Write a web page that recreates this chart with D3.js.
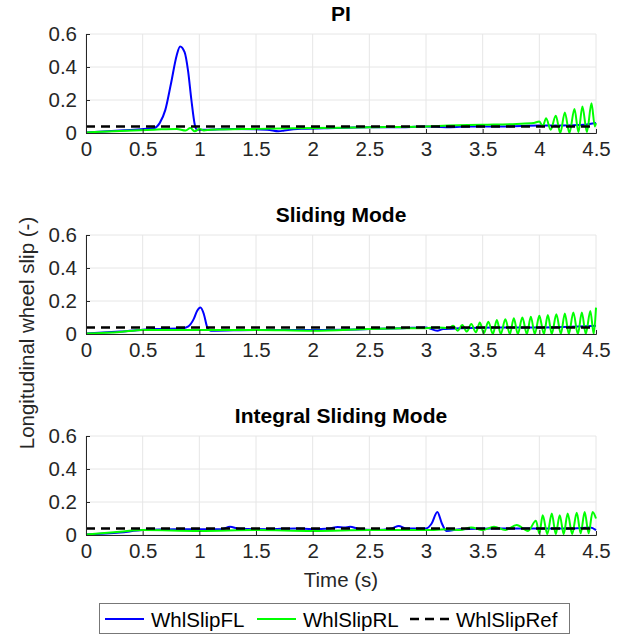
<!DOCTYPE html>
<html>
<head>
<meta charset="utf-8">
<script src="https://cdn.jsdelivr.net/npm/d3@7"></script>
<style>
body { margin: 0; background: #fff; }
text { font-family: "Liberation Sans", Arial, sans-serif; }
</style>
</head>
<body>
<div id="chart"></div>
<script>
// panel titles and ticks
var titles = ['PI', 'Sliding Mode', 'Integral Sliding Mode']
var xTicks = [0, 0.5, 1, 1.5, 2, 2.5, 3, 3.5, 4, 4.5]
var yTicks = [0, 0.2, 0.4, 0.6]
var slipRef = 0.04
var seriesNames = ['WhlSlipFL', 'WhlSlipRL', 'WhlSlipRef']

// PI
var piTimeFL = [0,0.3,0.6,0.65,0.7,0.75,0.8,0.83,0.87,0.9,0.93,0.96,0.98,1.05,1.3,1.6,1.7,1.75,1.9,2.2,2.5,2.8,3.0,3.2,3.4,3.7,4.0,4.2,4.4,4.5]
var piFL = [0.003,0.015,0.03,0.06,0.14,0.3,0.47,0.525,0.49,0.38,0.2,0.05,0.02,0.02,0.025,0.02,0.01,0.015,0.025,0.03,0.035,0.035,0.04,0.035,0.04,0.04,0.045,0.045,0.05,0.06]
var piTimeRL = [0,0.3,0.6,0.8,0.88,0.92,0.96,1.0,1.04,1.1,1.5,2.0,2.5,3.0,3.2,3.5,3.8,3.95,4.0,4.03,4.06,4.1,4.145,4.185,4.225,4.265,4.31,4.345,4.38,4.42,4.46,4.49,4.5]
var piRL = [0.003,0.012,0.02,0.025,0.015,0.03,0.01,0.025,0.015,0.02,0.025,0.03,0.035,0.04,0.045,0.05,0.055,0.06,0.07,0.04,0.09,0.02,0.105,0.0,0.125,0.0,0.145,0.005,0.16,0.005,0.18,0.04,0.06]

// Sliding mode
var smTimeFL = [0,0.3,0.6,0.85,0.9,0.95,0.98,1.01,1.04,1.07,1.1,1.5,2.0,2.5,2.8,3.0,3.1,3.15,3.3,3.6,4.0,4.5]
var smFL = [0.003,0.015,0.03,0.035,0.045,0.09,0.14,0.16,0.12,0.04,0.02,0.025,0.025,0.03,0.035,0.04,0.02,0.03,0.035,0.04,0.04,0.05]
var smTimeRL = [0,0.3,0.5,1.0,1.5,2.0,2.5,2.8,3.0,3.1,3.2,3.24,3.28,3.32,3.36,3.4,3.44,3.475,3.51,3.55,3.59,3.625,3.66,3.7,3.74,3.775,3.81,3.85,3.89,3.925,3.96,4.0,4.04,4.075,4.11,4.15,4.19,4.225,4.26,4.3,4.34,4.375,4.41,4.45,4.48,4.5]
var smRL = [0.003,0.012,0.025,0.025,0.025,0.02,0.03,0.035,0.035,0.04,0.035,0.05,0.02,0.055,0.015,0.06,0.01,0.07,0.005,0.075,0.0,0.085,0.0,0.09,0.0,0.095,0.0,0.1,0.0,0.105,0.0,0.11,0.0,0.115,0.0,0.12,0.0,0.125,0.0,0.13,0.0,0.13,0.0,0.14,0.0,0.16]

// Integral sliding mode
var ismTimeFL = [0,0.3,0.5,0.8,1.0,1.2,1.27,1.35,1.6,1.85,2.0,2.15,2.22,2.28,2.33,2.4,2.55,2.7,2.76,2.82,2.9,3.0,3.05,3.1,3.14,3.18,3.3,3.6,4.0,4.3,4.45,4.5]
var ismFL = [0.003,0.015,0.03,0.035,0.035,0.035,0.05,0.038,0.035,0.04,0.035,0.04,0.048,0.045,0.05,0.038,0.03,0.04,0.055,0.04,0.04,0.04,0.07,0.14,0.07,0.025,0.035,0.04,0.04,0.04,0.045,0.03]
var ismTimeRL = [0,0.3,0.5,1.0,1.5,2.0,2.5,3.0,3.2,3.3,3.4,3.5,3.6,3.7,3.8,3.9,3.97,4.0,4.03,4.07,4.11,4.145,4.18,4.215,4.25,4.29,4.33,4.365,4.4,4.435,4.47,4.5]
var ismRL = [0.003,0.02,0.03,0.025,0.03,0.025,0.03,0.03,0.035,0.03,0.045,0.03,0.05,0.03,0.06,0.025,0.086,0.01,0.12,0.005,0.13,0.005,0.12,0.005,0.13,0.005,0.135,0.01,0.14,0.01,0.14,0.1]

var panels = [
	{fl: [piTimeFL, piFL], rl: [piTimeRL, piRL]},
	{fl: [smTimeFL, smFL], rl: [smTimeRL, smRL]},
	{fl: [ismTimeFL, ismFL], rl: [ismTimeRL, ismRL]}
]

var W = 626, H = 637
var left = 86, right = 596
var tops = [34, 235, 436], ph = 99
var ink = '#262626'

var svg = d3.select('#chart').append('svg')
	.attr('width', W).attr('height', H)

var x = d3.scaleLinear().domain([0, 4.5]).range([left, right])

function pts(t, v){ return t.map((d,i)=>[d, v[i]]) }

panels.forEach(function(p, k){
	var top = tops[k]
	var y = d3.scaleLinear().domain([0, 0.6]).range([top + ph, top])
	var g = svg.append('g')

	// grid
	g.selectAll('line.gx').data(xTicks).join('line')
		.attr('x1', d=>x(d)).attr('x2', d=>x(d))
		.attr('y1', top).attr('y2', top + ph)
		.attr('stroke', '#e6e6e6').attr('stroke-width', 1)
	g.selectAll('line.gy').data(yTicks).join('line')
		.attr('x1', left).attr('x2', right)
		.attr('y1', d=>y(d)).attr('y2', d=>y(d))
		.attr('stroke', '#e6e6e6').attr('stroke-width', 1)

	var line = d3.line().x(d=>x(d[0])).y(d=>y(d[1])).curve(d3.curveMonotoneX)

	g.append('path').datum(pts(p.fl[0], p.fl[1]))
		.attr('d', line).attr('fill', 'none')
		.attr('stroke', '#0000ff').attr('stroke-width', 2)
	g.append('path').datum(pts(p.rl[0], p.rl[1]))
		.attr('d', line).attr('fill', 'none')
		.attr('stroke', '#00ff00').attr('stroke-width', 2)
	g.append('line')
		.attr('x1', x(0)).attr('x2', x(4.5))
		.attr('y1', y(slipRef)).attr('y2', y(slipRef))
		.attr('stroke', '#000').attr('stroke-width', 2.5)
		.attr('stroke-dasharray', '9,6')

	// axes
	var ax = d3.axisBottom(x).tickValues(xTicks).tickSize(-4).tickPadding(7)
		.tickFormat(d3.format('~g'))
	var ay = d3.axisLeft(y).tickValues(yTicks).tickSize(-4).tickPadding(9)
		.tickFormat(d3.format('~g'))
	var gx = g.append('g').attr('transform', 'translate(0,' + (top + ph) + ')').call(ax)
	var gy = g.append('g').attr('transform', 'translate(' + left + ',0)').call(ay)
	;[gx, gy].forEach(function(a){
		a.select('.domain').attr('stroke', ink)
		a.selectAll('.tick line').attr('stroke', ink)
		a.selectAll('.tick text').attr('fill', ink).style('font-size', '20.5px')
	})
	gx.selectAll('.tick text').attr('dy', '0.8em')

	g.append('text')
		.attr('x', (left + right) / 2).attr('y', top - 13)
		.attr('text-anchor', 'middle')
		.style('font-size', '21px').style('font-weight', 'bold')
		.attr('fill', '#000')
		.text(titles[k])
})

svg.append('text')
	.attr('transform', 'translate(34,' + 333 + ') rotate(-90)')
	.attr('text-anchor', 'middle')
	.style('font-size', '20.5px').attr('fill', ink)
	.text('Longitudinal wheel slip (-)')

svg.append('text')
	.attr('x', (left + right) / 2).attr('y', 587)
	.attr('text-anchor', 'middle')
	.style('font-size', '20.5px').attr('fill', ink)
	.text('Time (s)')

// legend
var lg = svg.append('g')
lg.append('rect').attr('x', 99.5).attr('y', 603.5).attr('width', 470).attr('height', 30)
	.attr('fill', '#fff').attr('stroke', '#777').attr('stroke-width', 1)
var lx = [105, 257, 410]
var lstyle = [['#0000ff', null, 2], ['#00ff00', null, 2], ['#000', '9,6', 2.5]]
seriesNames.forEach(function(n, i){
	lg.append('line')
		.attr('x1', lx[i]).attr('x2', lx[i] + 39)
		.attr('y1', 619).attr('y2', 619)
		.attr('stroke', lstyle[i][0]).attr('stroke-width', lstyle[i][2])
		.attr('stroke-dasharray', lstyle[i][1])
	lg.append('text')
		.attr('x', lx[i] + 46).attr('y', 626.5)
		.style('font-size', '20.5px').attr('fill', '#000')
		.text(n)
})
</script>
</body>
</html>
